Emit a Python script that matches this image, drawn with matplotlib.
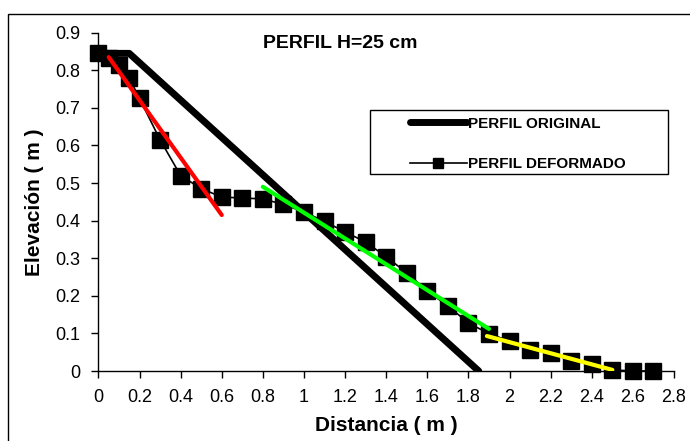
import numpy as np
import matplotlib
matplotlib.use("Agg")
import matplotlib.pyplot as plt
from matplotlib.patches import Rectangle
from matplotlib.ticker import FuncFormatter

plt.rcParams['font.family'] = ['Liberation Sans', 'DejaVu Sans']

# %%
# perfil original (talud antes del ensayo)
x_orig = [0.0, 0.15, 1.85]
y_orig = [0.845, 0.845, 0.0]

# perfil deformado (medido)
x_def = [0.0, 0.05, 0.1, 0.15, 0.2, 0.3, 0.4, 0.5, 0.6, 0.7, 0.8, 0.9, 1.0,
         1.1, 1.2, 1.3, 1.4, 1.5, 1.6, 1.7, 1.8, 1.9, 2.0, 2.1, 2.2, 2.3,
         2.4, 2.5, 2.6, 2.7]
y_def = [0.845, 0.833, 0.815, 0.78, 0.725, 0.615, 0.52, 0.485, 0.463, 0.46,
         0.458, 0.443, 0.423, 0.398, 0.37, 0.343, 0.304, 0.261, 0.213, 0.173,
         0.128, 0.099, 0.08, 0.057, 0.048, 0.027, 0.019, 0.003, 0.0, 0.0]

# tramos de ajuste
x_red, y_red = [0.05, 0.6], [0.835, 0.415]
x_green, y_green = [0.8, 1.9], [0.49, 0.112]
x_yellow, y_yellow = [1.89, 2.5], [0.093, 0.003]

xticks = np.arange(0, 2.81, 0.2)
yticks = np.arange(0, 0.91, 0.1)

# %%
W, H = 690, 441
fig = plt.figure(figsize=(W / 100, H / 100), dpi=100)
ax = fig.add_axes([98.4 / W, 1 - 371 / H, (674 - 98.4) / W, (371 - 32.7) / H])

ax.plot(x_orig, y_orig, color='black', lw=5, solid_capstyle='round',
        solid_joinstyle='round', label='PERFIL ORIGINAL', zorder=2)
ax.plot(x_def, y_def, color='black', lw=1.2, marker='s', ms=12,
        mec='black', mfc='black', label='PERFIL DEFORMADO', clip_on=False, zorder=3)
ax.plot(x_red, y_red, color='#ff0000', lw=3, solid_capstyle='round', zorder=4)
ax.plot(x_green, y_green, color='#00ff00', lw=3, solid_capstyle='round', zorder=4)
ax.plot(x_yellow, y_yellow, color='#ffff00', lw=3, solid_capstyle='round', zorder=4)

ax.set_xlim(0, 2.8)
ax.set_ylim(0, 0.9)
ax.set_xticks(xticks)
ax.set_yticks(yticks)
fmt = FuncFormatter(lambda v, p: '%g' % round(v, 2))
ax.xaxis.set_major_formatter(fmt)
ax.yaxis.set_major_formatter(fmt)
ax.tick_params(direction='out', length=5, width=1, labelsize=13, pad=8)
for s in ['top', 'right']:
    ax.spines[s].set_visible(False)
for s in ['left', 'bottom']:
    ax.spines[s].set_linewidth(1)

ax.set_xlabel('Distancia ( m )', fontsize=15, fontweight='bold', labelpad=7)
ax.set_ylabel('Elevación ( m )', fontsize=15, fontweight='bold', labelpad=8)

fig.text(340 / W, 1 - 43 / H, 'PERFIL H=25 cm', fontsize=14, fontweight='bold',
         ha='center', va='center')

# leyenda con marco propio
leg = fig.legend(loc='center', bbox_to_anchor=(518 / W, 1 - 144 / H), frameon=False,
                 prop={'weight': 'bold', 'size': 11}, handlelength=3.7,
                 handletextpad=0.1, labelspacing=1.75, borderpad=0, numpoints=1,
                 markerscale=0.65)
fig.add_artist(Rectangle((370 / W, 1 - 174 / H), 298 / W, 64 / H, transform=fig.transFigure,
                         fill=False, ec='black', lw=1))

# borde de la figura
fig.add_artist(Rectangle((8 / W, -0.05), 1.1, 1 - 14 / H + 0.05, transform=fig.transFigure,
                         fill=False, ec='black', lw=1))

fig.savefig('out.png', dpi=100)
